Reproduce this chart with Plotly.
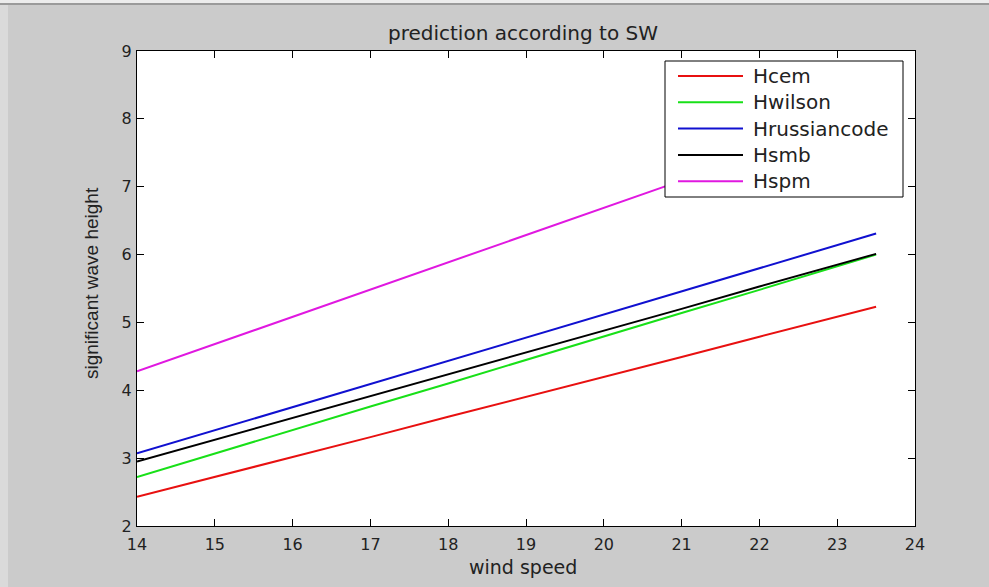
import plotly.graph_objects as go

wind_speed = [14, 15, 16, 17, 18, 19, 20, 21, 22, 23, 23.5]
h_cem = [2.43, 2.72, 3.02, 3.31, 3.61, 3.90, 4.20, 4.49, 4.79, 5.08, 5.23]
h_wilson = [2.72, 3.07, 3.41, 3.76, 4.10, 4.45, 4.79, 5.14, 5.48, 5.83, 6.00]
h_russian = [3.07, 3.41, 3.75, 4.09, 4.43, 4.78, 5.12, 5.46, 5.80, 6.14, 6.31]
h_smb = [2.95, 3.27, 3.59, 3.92, 4.24, 4.56, 4.88, 5.20, 5.53, 5.85, 6.01]
h_spm = [4.28, 4.68, 5.08, 5.49, 5.89, 6.29, 6.69, 7.09, 7.50, 7.90, 8.10]

series_names = ["Hcem", "Hwilson", "Hrussiancode", "Hsmb", "Hspm"]
series_values = [h_cem, h_wilson, h_russian, h_smb, h_spm]
series_colors = ["#e81010", "#18e018", "#1010d0", "#000000", "#e018e0"]

x_ticks = list(range(14, 25))
y_ticks = list(range(2, 10))

W, H = 989, 587
L, R, T, B = 137, 915, 51, 526
pw, ph = R - L, B - T


def px(x):
    return (x - L) / pw


def py(y):
    return (B - y) / ph


fig = go.Figure()
for name, vals, col in zip(series_names, series_values, series_colors):
    fig.add_trace(go.Scatter(x=wind_speed, y=vals, mode="lines", name=name,
                             line=dict(color=col, width=2), showlegend=False))

bg = "#cbcbcb"
txt = "#222222"
axis_common = dict(showline=True, linecolor="black", linewidth=1, mirror="ticks",
                   ticks="inside", ticklen=7, tickcolor="black", tickwidth=1,
                   showgrid=False, zeroline=False,
                   tickfont=dict(family="DejaVu Sans", size=16, color=txt))

fig.update_layout(
    width=W, height=H,
    margin=dict(l=L, r=W - R, t=T, b=H - B),
    paper_bgcolor=bg, plot_bgcolor="white",
    xaxis=dict(range=[14, 24], tickvals=x_ticks, ticktext=[str(v) for v in x_ticks],
               ticklabelstandoff=4, **axis_common),
    yaxis=dict(range=[2, 9], tickvals=y_ticks, ticktext=[str(v) for v in y_ticks],
               ticklabelstandoff=1, **axis_common),
)

shapes = []
annotations = []
# window border strips
shapes.append(dict(type="rect", xref="paper", yref="paper", x0=px(0), x1=px(W), y0=py(0), y1=py(3),
                   fillcolor="#ececec", line=dict(width=0), layer="below"))
shapes.append(dict(type="rect", xref="paper", yref="paper", x0=px(0), x1=px(W), y0=py(3), y1=py(5),
                   fillcolor="#9a9a9a", line=dict(width=0), layer="below"))
shapes.append(dict(type="rect", xref="paper", yref="paper", x0=px(0), x1=px(8), y0=py(5), y1=py(H),
                   fillcolor="#dadada", line=dict(width=0), layer="below"))

# legend box
lx0, lx1, ly0, ly1 = 665, 903, 61, 197
shapes.append(dict(type="rect", xref="paper", yref="paper", x0=px(lx0), x1=px(lx1), y0=py(ly1), y1=py(ly0),
                   fillcolor="white", line=dict(color="black", width=1), layer="above"))
for i, (name, col) in enumerate(zip(series_names, series_colors)):
    yy = 76 + 26.3 * i
    shapes.append(dict(type="line", xref="paper", yref="paper", x0=px(678), x1=px(743), y0=py(yy), y1=py(yy),
                       line=dict(color=col, width=2), layer="above"))
    annotations.append(dict(text=name, xref="paper", yref="paper", x=px(751), y=py(yy),
                            xanchor="left", yanchor="middle", showarrow=False,
                            font=dict(family="DejaVu Sans", size=20, color=txt)))

annotations.append(dict(text="prediction according to SW", xref="paper", yref="paper",
                        x=px(523), y=py(33), xanchor="center", yanchor="middle", showarrow=False,
                        font=dict(family="DejaVu Sans", size=20, color=txt)))
annotations.append(dict(text="wind speed", xref="paper", yref="paper",
                        x=px(523), y=py(567), xanchor="center", yanchor="middle", showarrow=False,
                        font=dict(family="DejaVu Sans", size=19, color=txt)))
annotations.append(dict(text="significant wave height", xref="paper", yref="paper",
                        x=px(91), y=py(283), xanchor="center", yanchor="middle", showarrow=False,
                        textangle=-90,
                        font=dict(family="Liberation Sans", size=19, color=txt)))

fig.update_layout(shapes=shapes, annotations=annotations)
fig.write_html("out.html")
